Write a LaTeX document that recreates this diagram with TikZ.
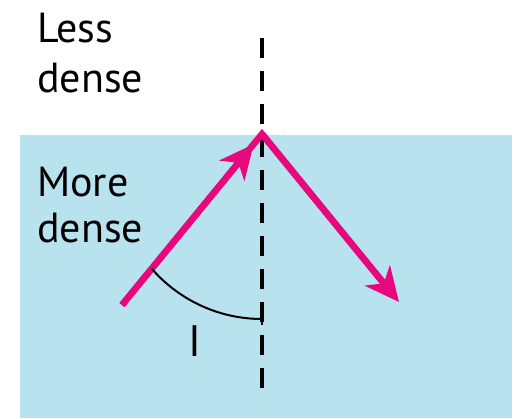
\documentclass[tikz,border=0pt]{standalone}
\usepackage{fontspec}
\setmainfont{PT Sans}
\usetikzlibrary{arrows.meta,calc}
\definecolor{water}{HTML}{B8E2EE}
\definecolor{raypink}{HTML}{E8087E}
\tikzset{
  lbl/.style={anchor=base west, inner sep=0pt, font=\fontsize{42}{50}\selectfont},
  ray/.style={draw=raypink, line width=6.5pt, miter limit=20},
  tip/.style={-{Stealth[length=34pt,width=32pt,inset=10pt]}, raypink, line width=6.5pt},
  normal/.style={draw=black, line width=3.2pt, dash pattern=on 20pt off 13pt},
  anglearc/.style={draw=black, line width=2pt}
}
\begin{document}
\begin{tikzpicture}[x=1pt,y=-1pt]
\useasboundingbox (0,0) rectangle (517,419);
\fill[water] (20,135) rectangle (512,418);
% texts
\node[lbl] (less1) at (37,43) {Less};
\node[lbl] (less2) at (37,93) {dense};
\node[lbl] (more1) at (37,197) {More};
\node[lbl] (more2) at (37,243) {dense};
\node[lbl, font=\fontsize{44}{50}\selectfont] (ilab) at (188,357) {I};
% normal
\coordinate (ntop) at (262,38);
\coordinate (nbot) at (262,390);
\draw[normal] (ntop) -- (nbot);
% rays
\coordinate (s) at (122,305);
\coordinate (apex) at (262,134);
\coordinate (e) at (399,302);
\draw[ray] (s) -- (apex) -- ($(apex)!0.9!(e)$);
\draw[tip] (s) -- ($(s)!0.94!(apex)$);
\draw[tip] (apex) -- (e);
% angle arc
\coordinate (c) at (262,173);
\draw[anglearc] ($(c)+(139:146)$) arc[start angle=139, end angle=90, radius=146];
\draw[anglearc] (262,313) -- (262,325);
\end{tikzpicture}
\end{document}
